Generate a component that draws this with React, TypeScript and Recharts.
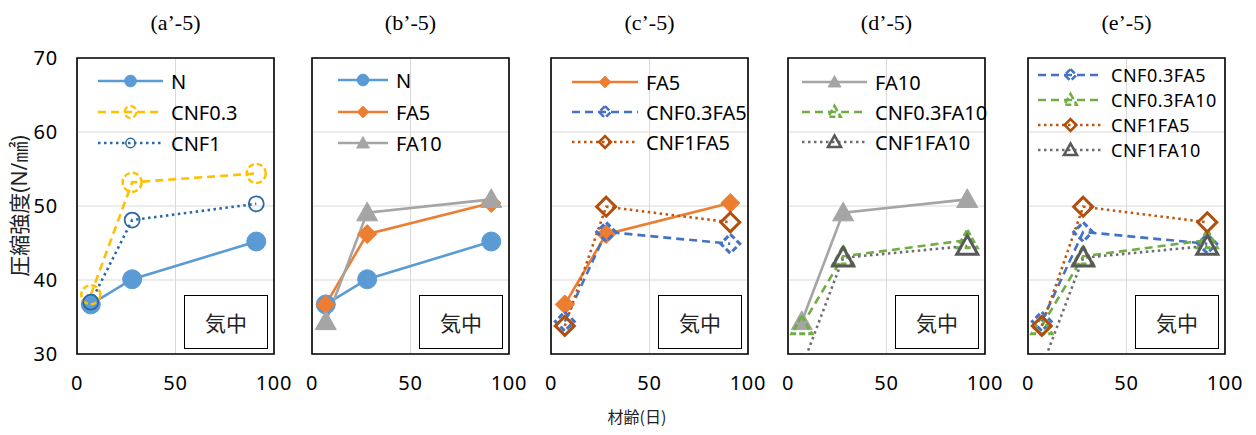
import React from 'react'
import { LineChart, Line, XAxis, YAxis, CartesianGrid, ReferenceArea, Legend } from 'recharts'

// curing age (days) and compressive strength (N/mm2), cured in air
const days = [7, 28, 91]
const xTicks = [0, 50, 100]
const yTicks = [30, 40, 50, 60, 70]

const nValues = [36.7, 40.1, 45.2]
const cnf03Values = [38.0, 53.2, 54.4]
const cnf1Values = [37.0, 48.1, 50.3]
const fa5Values = [36.7, 46.2, 50.4]
const fa10Values = [34.4, 49.1, 50.9]
const cnf03fa5Values = [34.4, 46.5, 44.9]
const cnf1fa5Values = [33.8, 49.9, 47.8]
const cnf03fa10Values = [33.8, 43.2, 45.4]
const cnf1fa10Values = [28.2, 43.0, 44.6]

const panelTitles = ['(a’-5)', '(b’-5)', '(c’-5)', '(d’-5)', '(e’-5)']

const SANS = '"Noto Sans", "Noto Sans CJK JP", sans-serif'
const DASH = '8 5'
const DOT = '2.5 3.5'

type MarkerKind = 'circle' | 'diamond' | 'triangle'

interface Series {
  name: string
  values: number[]
  color: string
  markerColor: string
  dash?: string
  marker: MarkerKind
  filled: boolean
  size: number
  markerStroke: number
}

const N: Series = { name: 'N', values: nValues, color: '#5B9BD5', markerColor: '#5B9BD5', marker: 'circle', filled: true, size: 9.5, markerStroke: 1 }
const CNF03: Series = { name: 'CNF0.3', values: cnf03Values, color: '#FFC000', markerColor: '#FFC000', dash: DASH, marker: 'circle', filled: false, size: 9.5, markerStroke: 2.5 }
const CNF1: Series = { name: 'CNF1', values: cnf1Values, color: '#2A69A5', markerColor: '#2A69A5', dash: DOT, marker: 'circle', filled: false, size: 7.5, markerStroke: 1.8 }
const FA5: Series = { name: 'FA5', values: fa5Values, color: '#ED7D31', markerColor: '#ED7D31', marker: 'diamond', filled: true, size: 9.5, markerStroke: 1 }
const FA10: Series = { name: 'FA10', values: fa10Values, color: '#A5A5A5', markerColor: '#A5A5A5', marker: 'triangle', filled: true, size: 10.5, markerStroke: 1 }
const CNF03FA5: Series = { name: 'CNF0.3FA5', values: cnf03fa5Values, color: '#4472C4', markerColor: '#4472C4', dash: DASH, marker: 'diamond', filled: false, size: 9.5, markerStroke: 3 }
const CNF1FA5: Series = { name: 'CNF1FA5', values: cnf1fa5Values, color: '#C0560F', markerColor: '#B04E0E', dash: DOT, marker: 'diamond', filled: false, size: 9.5, markerStroke: 3 }
const CNF03FA10: Series = { name: 'CNF0.3FA10', values: cnf03fa10Values, color: '#70AD47', markerColor: '#70AD47', dash: DASH, marker: 'triangle', filled: false, size: 10, markerStroke: 3 }
const CNF1FA10: Series = { name: 'CNF1FA10', values: cnf1fa10Values, color: '#6E6E6E', markerColor: '#595959', dash: DOT, marker: 'triangle', filled: false, size: 10.5, markerStroke: 3 }

interface Panel {
  title: string
  series: Series[]
  plotLeft: number
  legendX: number
  legendLen: number
  legendRows: number[]
  legendFont: number
}

const PLOT_W = 197
const PLOT_TOP = 58
const PLOT_BOTTOM = 354
const H = 435

const panels: Panel[] = [
  { title: panelTitles[0], series: [N, CNF03, CNF1], plotLeft: 77, legendX: 21, legendLen: 65, legendRows: [81, 112, 143], legendFont: 20 },
  { title: panelTitles[1], series: [N, FA5, FA10], plotLeft: 312, legendX: 26, legendLen: 50, legendRows: [80, 112, 143], legendFont: 20 },
  { title: panelTitles[2], series: [FA5, CNF03FA5, CNF1FA5], plotLeft: 551, legendX: 21, legendLen: 66, legendRows: [82, 112, 142], legendFont: 20 },
  { title: panelTitles[3], series: [FA10, CNF03FA10, CNF1FA10], plotLeft: 788, legendX: 14, legendLen: 65, legendRows: [82, 112, 142], legendFont: 20 },
  { title: panelTitles[4], series: [CNF03FA5, CNF03FA10, CNF1FA5, CNF1FA10], plotLeft: 1028, legendX: 10, legendLen: 65, legendRows: [75, 100, 125, 150], legendFont: 18 },
]

const tickStyle = { fontSize: 20, fill: '#000', fontFamily: SANS, letterSpacing: 0.8 }

function Marker({ s, cx, cy, scale = 1 }: { s: Series; cx: number; cy: number; scale?: number }) {
  const r = s.size * scale
  const style = {
    fill: s.filled ? s.markerColor : 'none',
    stroke: s.markerColor,
    strokeWidth: s.markerStroke * (scale < 1 ? 0.85 : 1),
    strokeDasharray: s.filled ? undefined : s.dash === DASH ? '6 3' : undefined,
  }
  if (s.marker === 'circle') return <circle cx={cx} cy={cy} r={r} {...style} />
  if (s.marker === 'diamond') {
    const pts = `${cx},${cy - r} ${cx + r},${cy} ${cx},${cy + r} ${cx - r},${cy}`
    return <polygon points={pts} strokeLinejoin="miter" {...style} />
  }
  const pts = `${cx},${cy - r} ${cx + r},${cy + r * 0.78} ${cx - r},${cy + r * 0.78}`
  return <polygon points={pts} strokeLinejoin="miter" {...style} />
}

function PanelChart({ panel, first }: { panel: Panel; first: boolean }) {
  const chartLeft = first ? 0 : panel.plotLeft - 20
  const marginLeft = first ? 17 : 20
  const yAxisW = first ? 60 : 0
  const width = panel.plotLeft + PLOT_W + 20 - chartLeft

  const legendW = panel.legendLen + 130
  const legendTop = panel.legendRows[0] - 16
  const legendH = panel.legendRows[panel.legendRows.length - 1] - legendTop + 16

  return (
    <div style={{ position: 'absolute', left: chartLeft, top: 0 }}>
      <LineChart
        width={width}
        height={H}
        margin={{ top: PLOT_TOP, right: 20, left: marginLeft, bottom: H - PLOT_BOTTOM - 30 }}
      >
        <CartesianGrid stroke="#D9D9D9" strokeWidth={1} />
        <XAxis
          type="number"
          dataKey="day"
          domain={[0, 100]}
          ticks={xTicks}
          allowDataOverflow
          axisLine={false}
          tickLine={false}
          tickMargin={16}
          height={30}
          interval={0}
          tick={tickStyle}
        />
        <YAxis
          type="number"
          domain={[30, 70]}
          ticks={yTicks}
          allowDataOverflow
          hide={!first}
          width={yAxisW}
          axisLine={false}
          tickLine={false}
          tickMargin={13}
          interval={0}
          tick={tickStyle}
          label={
            first
              ? {
                  value: '圧縮強度(N/㎟)',
                  angle: -90,
                  position: 'insideLeft',
                  offset: 3,
                  style: { textAnchor: 'middle', fontSize: 21, fill: '#222', fontFamily: SANS },
                }
              : undefined
          }
        />
        <ReferenceArea x1={0} x2={100} y1={30} y2={70} fill="none" stroke="#000" strokeWidth={1.6} />
        {panel.series.map((s) => (
          <Line
            key={s.name}
            name={s.name}
            type="linear"
            dataKey="v"
            data={days.map((d, i) => ({ day: d, v: s.values[i] }))}
            stroke={s.color}
            strokeWidth={2.6}
            strokeDasharray={s.dash}
            isAnimationActive={false}
            activeDot={false}
            dot={(p: any) => <Marker key={`${s.name}-${p.index}`} s={s} cx={p.cx} cy={p.cy} />}
          />
        ))}
        <Legend
          layout="vertical"
          align="center"
          verticalAlign="middle"
          wrapperStyle={{
            position: 'absolute',
            left: panel.plotLeft - chartLeft + panel.legendX,
            top: legendTop,
            width: legendW,
            height: legendH,
          }}
          content={() => (
            <svg width={legendW} height={legendH} style={{ display: 'block', overflow: 'visible' }}>
              {panel.series.map((s, i) => {
                const y = panel.legendRows[i] - legendTop
                const mid = panel.legendLen / 2
                return (
                  <g key={s.name}>
                    <line x1={0} x2={panel.legendLen} y1={y} y2={y} stroke={s.color} strokeWidth={2.6} strokeDasharray={s.dash} />
                    <Marker s={s} cx={mid} cy={y} scale={0.62} />
                    <text
                      x={panel.legendLen + 8}
                      y={y}
                      dominantBaseline="central"
                      fontSize={panel.legendFont}
                      letterSpacing={panel.legendFont < 20 ? 0.5 : 0}
                      fill="#000"
                      fontFamily={SANS}
                    >
                      {s.name}
                    </text>
                  </g>
                )
              })}
            </svg>
          )}
        />
      </LineChart>
      {/* curing condition tag */}
      <div
        style={{
          position: 'absolute',
          left: panel.plotLeft - chartLeft + PLOT_W - 6 - 84,
          top: 295,
          width: 84,
          height: 54,
          boxSizing: 'border-box',
          border: '1.6px solid #000',
          background: '#fff',
          display: 'flex',
          alignItems: 'center',
          justifyContent: 'center',
          fontSize: 21,
          fontFamily: '"Noto Sans CJK JP", sans-serif',
          color: '#222',
        }}
      >
        気中
      </div>
      <div
        style={{
          position: 'absolute',
          left: panel.plotLeft - chartLeft,
          width: PLOT_W,
          top: 11,
          textAlign: 'center',
          fontSize: 22,
          lineHeight: '24px',
          fontFamily: '"Liberation Serif", serif',
          color: '#000',
        }}
      >
        {panel.title}
      </div>
    </div>
  )
}

export default function App() {
  return (
    <div style={{ position: 'absolute', left: 0, top: 0, width: 1256, height: H, background: '#fff', fontFamily: SANS }}>
      {panels.map((p, i) => (
        <PanelChart key={p.title} panel={p} first={i === 0} />
      ))}
      <div
        style={{
          position: 'absolute',
          left: 637 - 60,
          width: 120,
          top: 405,
          textAlign: 'center',
          fontSize: 16,
          lineHeight: '22px',
          fontFamily: '"Noto Sans CJK JP", sans-serif',
          color: '#222',
        }}
      >
        材齢(日)
      </div>
    </div>
  )
}
